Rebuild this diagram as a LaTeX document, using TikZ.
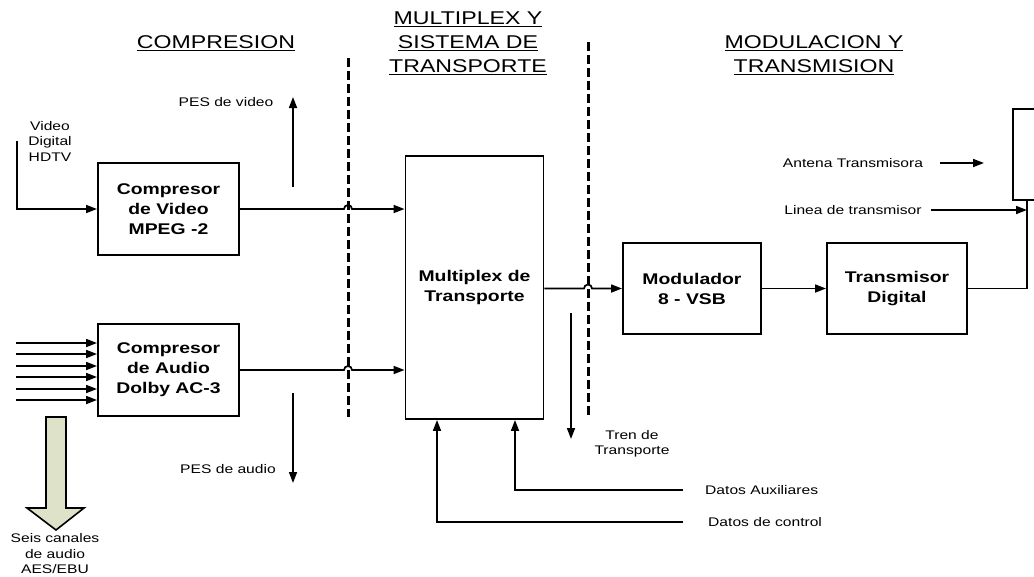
\documentclass[tikz,border=0pt]{standalone}
\usepackage{fontspec}
\setmainfont{Liberation Sans}[FakeStretch=1.25]
\definecolor{sagegreen}{RGB}{222,226,200}
\usetikzlibrary{arrows.meta,positioning}

\begin{document}
\begin{tikzpicture}[x=1pt, y=-1pt,
      arr/.style={-{Triangle[length=11pt,width=8pt]}, line width=1.7pt},
      plain/.style={line width=1.7pt},
      blk/.style={draw, line width=1.9pt, inner sep=0pt, align=center,
                  font=\fontsize{15.5}{20}\selectfont\bfseries},
      lbl/.style={inner sep=0pt, align=center, font=\fontsize{12.5}{15.5}\selectfont},
      hdr/.style={inner sep=0pt, align=center, font=\fontsize{18.5}{24}\selectfont},
      divider/.style={line width=3pt, dash pattern=on 9pt off 4pt}
    ]
    \useasboundingbox (0,0) rectangle (1034,576);

    % stage headers
    \node[hdr] (hcomp) at (216,43) {\underline{COMPRESION}};
    \node[hdr] (hmux)  at (468,43) {\underline{MULTIPLEX Y}\\\underline{SISTEMA DE}\\\underline{TRANSPORTE}};
    \node[hdr] (hmod)  at (814,55) {\underline{MODULACION Y}\\\underline{TRANSMISION}};

    % separators between stages
    \coordinate (d1top) at (348,58);
    \coordinate (d1bot) at (348,417);
    \coordinate (d2top) at (588,42);
    \coordinate (d2bot) at (588,417);
    \draw[divider] (d1top) -- (d1bot);
    \draw[divider] (d2top) -- (d2bot);

    % blocks
    \node[blk, minimum width=141pt, minimum height=92pt] (vcomp) at (168.5,209) {Compresor\\de Video\\MPEG -2};
    \node[blk, minimum width=141pt, minimum height=92pt] (acomp) at (168.5,370) {Compresor\\de Audio\\Dolby AC-3};
    \node[blk, minimum width=138pt, minimum height=263pt] (mux) at (474.5,287.5) {Multiplex de\\Transporte};
    \node[blk, minimum width=138pt, minimum height=91pt] (mod) at (692,288.5) {Modulador\\8 - VSB};
    \node[blk, minimum width=140pt, minimum height=91pt] (tx) at (897,288.5) {Transmisor\\Digital};
    % antenna box, cut by the frame
    \draw[line width=1.9pt] (1034,109) -| (1013,200) -- (1034,200);
    \coordinate (antbot) at (1027,200);

    % video input
    \node[lbl] (vidlbl) at (50,141) {Video\\Digital\\HDTV};
    \coordinate (vin) at (17,141);
    \draw[arr] (vin) |- (vcomp.west);

    % six audio inputs
    \foreach \i/\yy in {1/343,2/354,3/366,4/377,5/389,6/400}{
      \coordinate (ain\i) at (16,\yy);
      \draw[arr] (ain\i) -- (ain\i -| acomp.west);
    }

    % AES/EBU channels
    \draw[fill=sagegreen, line width=1.6pt] (46,417) -- (66,417) -- (66,508) -- (84,508)
      -- (56,530) -- (27,508) -- (46,508) -- cycle;
    \node[lbl] (aeslbl) at (55,554) {Seis canales\\de audio\\AES/EBU};

    % PES outputs
    \coordinate (pesv0) at (293,187);
    \coordinate (pesv1) at (293,97);
    \draw[arr] (pesv0) -- (pesv1);
    \node[lbl] (pesvlbl) at (226,102) {PES de video};
    \coordinate (pesa0) at (293,393);
    \coordinate (pesa1) at (293,483);
    \draw[arr] (pesa0) -- (pesa1);
    \node[lbl] (pesalbl) at (228,469) {PES de audio};

    % compressors into the multiplexer, hopping the separator
    \draw[arr] (vcomp.east) -- ([xshift=-4pt]vcomp.east -| d1top)
      arc[start angle=180, end angle=0, radius=4pt] -- (vcomp.east -| mux.west);
    \draw[arr] (acomp.east) -- ([xshift=-4pt]acomp.east -| d1top)
      arc[start angle=180, end angle=0, radius=4pt] -- (acomp.east -| mux.west);

    % transport stream
    \draw[arr] (mux.east |- mod.west) -- ([xshift=-4pt]mod.west -| d2top)
      arc[start angle=180, end angle=0, radius=4pt] -- (mod.west);
    \coordinate (tren0) at (571,313);
    \coordinate (tren1) at (571,439);
    \draw[arr] (tren0) -- (tren1);
    \node[lbl, font=\fontsize{12.5}{14.5}\selectfont] (trenlbl) at (632,444) {Tren de\\Transporte};

    % auxiliary and control data
    \coordinate (aux) at (683,490);
    \coordinate (ctrl) at (683,522);
    \draw[arr] (aux) -| ([xshift=40.5pt]mux.south);
    \draw[arr] (ctrl) -| ([xshift=-37.5pt]mux.south);
    \node[lbl, anchor=west] (auxlbl) at (705,490) {Datos Auxiliares};
    \node[lbl, anchor=west] (ctrllbl) at (708,522) {Datos de control};

    % modulation and transmission
    \draw[arr] (mod.east) -- (tx.west);
    \draw[plain] (tx.east) -| (antbot);
    \node[lbl] (antlbl) at (853,163) {Antena Transmisora};
    \coordinate (ant0) at (940,163);
    \coordinate (ant1) at (984,163);
    \draw[arr] (ant0) -- (ant1);
    \node[lbl] (linlbl) at (853,210) {Linea de transmisor};
    \coordinate (lin0) at (931,210);
    \draw[arr] (lin0) -- (lin0 -| antbot);
  \end{tikzpicture}
\end{document}
